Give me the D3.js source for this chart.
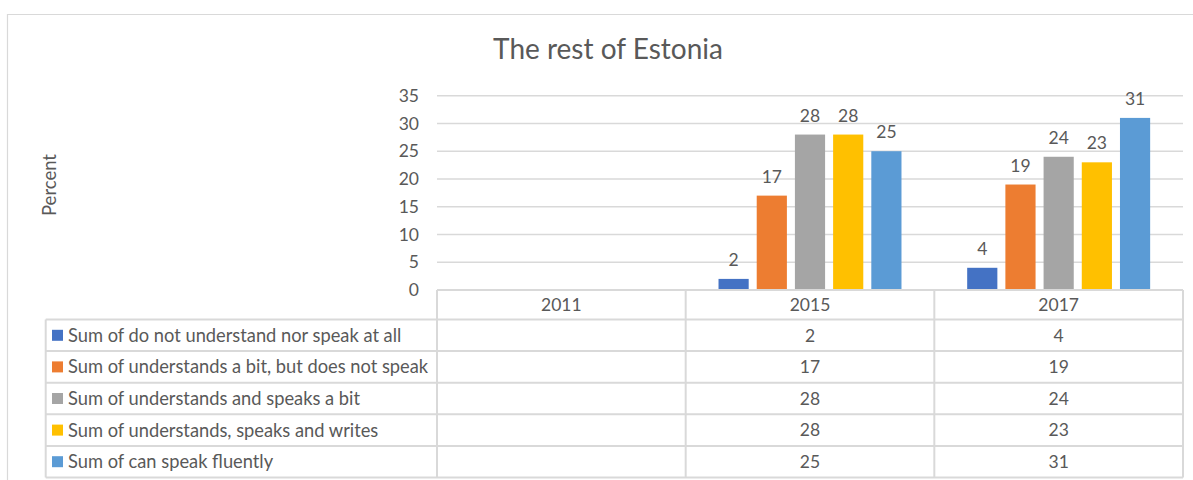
<!DOCTYPE html>
<html>
<head>
<meta charset="utf-8">
<script src="https://cdn.jsdelivr.net/npm/d3@7"></script>
<style>
  html, body { margin: 0; padding: 0; background: #ffffff; }
  svg { display: block; }
  text { font-family: Lato, "Open Sans", sans-serif; fill: #595959; }
</style>
</head>
<body>
<svg id="chart" width="1193" height="480"></svg>
<script>
// Years shown on the category axis / table header
const categories = ["2011", "2015", "2017"];

// Series names (legend / table row labels)
const seriesNames = [
  "Sum of do not understand nor speak at all",
  "Sum of understands a bit, but does not speak",
  "Sum of understands and speaks a bit",
  "Sum of understands, speaks and writes",
  "Sum of can speak fluently"
];

// Values per series, one entry per year (no data for 2011)
const notAtAll      = [null, 2, 4];
const understandBit = [null, 17, 19];
const speaksBit     = [null, 28, 24];
const speaksWrites  = [null, 28, 23];
const fluent        = [null, 25, 31];

const seriesValues = [notAtAll, understandBit, speaksBit, speaksWrites, fluent];
const seriesColors = ["#4472C4", "#ED7D31", "#A5A5A5", "#FFC000", "#5B9BD5"];

const yTicks = [0, 5, 10, 15, 20, 25, 30, 35];

const svg = d3.select("#chart");
const grid = "#d9d9d9";
const fs = 17.5;

// Outer chart frame
svg.append("path")
  .attr("d", "M7.5,480 V14.5 H1193")
  .attr("fill", "none").attr("stroke", grid).attr("stroke-width", 1.2);

// Title
svg.append("text")
  .attr("x", 608).attr("y", 59)
  .attr("text-anchor", "middle")
  .attr("font-size", 28)
  .text("The rest of Estonia");

// Scales
const plotLeft = 437, plotRight = 1183;
const y = d3.scaleLinear().domain([0, 35]).range([290, 95.7]);
const x = d3.scaleBand().domain(categories).range([plotLeft, plotRight]);
const xs = d3.scaleBand().domain(d3.range(seriesNames.length))
  .range([0, x.bandwidth()]).paddingInner(0.21).paddingOuter(0.86);

// Gridlines
svg.append("g").selectAll("line")
  .data(yTicks.filter(t => t > 0))
  .join("line")
  .attr("x1", plotLeft).attr("x2", plotRight)
  .attr("y1", d => y(d)).attr("y2", d => y(d))
  .attr("stroke", grid).attr("stroke-width", 1.5);

// Y axis tick labels
const yAxis = d3.axisLeft(y).tickValues(yTicks).tickSize(0).tickPadding(0);
const yg = svg.append("g").attr("transform", "translate(419,0)").call(yAxis);
yg.select(".domain").remove();
yg.selectAll("text")
  .attr("font-size", fs)
  .attr("font-family", "Lato, sans-serif")
  .attr("fill", "#595959");

// Y axis title
svg.append("text")
  .attr("transform", "translate(56,185) rotate(-90)")
  .attr("text-anchor", "middle")
  .attr("font-size", 18.5)
  .text("Percent");

// Bars and value labels
const barData = [];
seriesValues.forEach((vals, si) => {
  vals.forEach((v, ci) => {
    if (v !== null) barData.push({ si, cat: categories[ci], v });
  });
});

svg.append("g").selectAll("rect")
  .data(barData)
  .join("rect")
  .attr("x", d => x(d.cat) + xs(d.si))
  .attr("y", d => y(d.v))
  .attr("width", xs.bandwidth())
  .attr("height", d => y(0) - y(d.v))
  .attr("fill", d => seriesColors[d.si]);

svg.append("g").selectAll("text")
  .data(barData)
  .join("text")
  .attr("x", d => x(d.cat) + xs(d.si) + xs.bandwidth() / 2)
  .attr("y", d => y(d.v) - 13)
  .attr("text-anchor", "middle")
  .attr("font-size", fs)
  .text(d => d.v);

// Data table beneath the axis
const headerTop = 290, headerBottom = 319.5, rowH = 31.6;
const tableLeft = 45.7;
const table = svg.append("g")
  .attr("fill", "none").attr("stroke", grid).attr("stroke-width", 2);

// Header row (category labels)
table.append("line")
  .attr("x1", plotLeft).attr("x2", plotRight)
  .attr("y1", headerTop).attr("y2", headerTop);
const tableBottom = headerBottom + rowH * seriesNames.length;
// Horizontal row lines
d3.range(seriesNames.length + 1).forEach(i => {
  table.append("line")
    .attr("x1", tableLeft).attr("x2", plotRight)
    .attr("y1", headerBottom + i * rowH).attr("y2", headerBottom + i * rowH);
});
// Vertical column lines
table.append("line")
  .attr("x1", tableLeft).attr("x2", tableLeft)
  .attr("y1", headerBottom).attr("y2", tableBottom);
categories.forEach(c => {
  table.append("line")
    .attr("x1", x(c)).attr("x2", x(c))
    .attr("y1", headerTop).attr("y2", tableBottom);
});
table.append("line")
  .attr("x1", plotRight).attr("x2", plotRight)
  .attr("y1", headerTop).attr("y2", tableBottom);

// Header labels
svg.append("g").selectAll("text")
  .data(categories)
  .join("text")
  .attr("x", d => x(d) + x.bandwidth() / 2)
  .attr("y", (headerTop + headerBottom) / 2)
  .attr("dy", "0.36em")
  .attr("text-anchor", "middle")
  .attr("font-size", fs)
  .text(d => d);

// Row labels with colour keys
const rows = svg.append("g").selectAll("g")
  .data(seriesNames)
  .join("g")
  .attr("transform", (d, i) => `translate(0,${headerBottom + i * rowH + rowH / 2})`);

rows.append("rect")
  .attr("x", 52).attr("y", -5.5)
  .attr("width", 11).attr("height", 11)
  .attr("fill", (d, i) => seriesColors[i]);

rows.append("text")
  .attr("x", 68).attr("dy", "0.36em")
  .attr("font-size", 18.3)
  .text(d => d);

// Row values
rows.each(function (name, si) {
  d3.select(this).selectAll("text.val")
    .data(seriesValues[si])
    .join("text")
    .attr("class", "val")
    .attr("x", (v, ci) => x(categories[ci]) + x.bandwidth() / 2)
    .attr("dy", "0.36em")
    .attr("text-anchor", "middle")
    .attr("font-size", fs)
    .text(v => v === null ? "" : v);
});
</script>
</body>
</html>
